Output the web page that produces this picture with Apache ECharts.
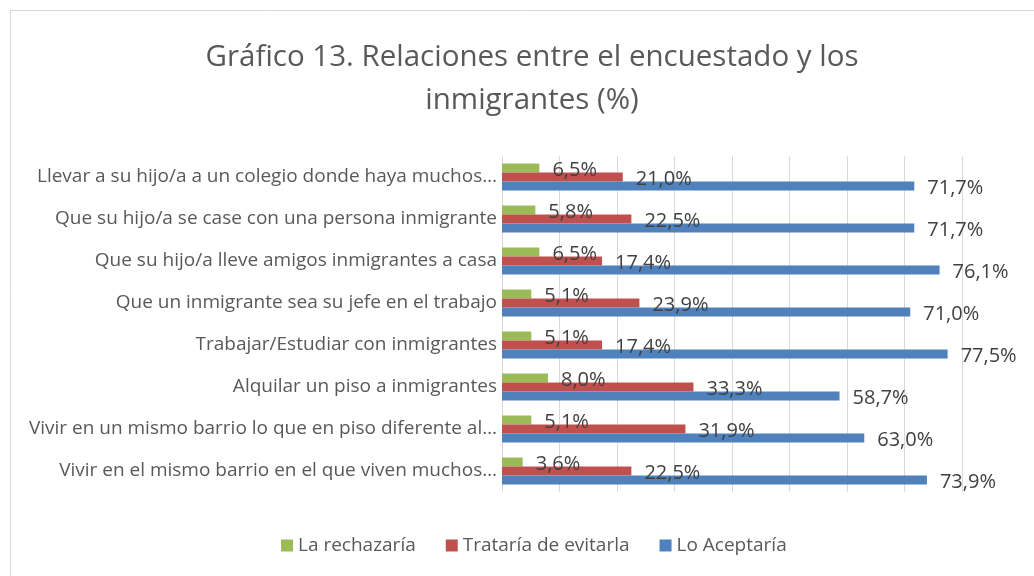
<!DOCTYPE html>
<html>
<head>
<meta charset="utf-8">
<script src="https://cdn.jsdelivr.net/npm/echarts@6/dist/echarts.min.js"></script>
<style>
html,body{margin:0;padding:0;background:#fff;}
#main{width:1034px;height:576px;}
</style>
</head>
<body>
<div id="main"></div>
<script>
var categories = [
    'Llevar a su hijo/a a un colegio donde haya muchos…',
    'Que su hijo/a se case con una persona inmigrante',
    'Que su hijo/a lleve amigos inmigrantes a casa',
    'Que un inmigrante sea su jefe en el trabajo',
    'Trabajar/Estudiar con inmigrantes',
    'Alquilar un piso a inmigrantes',
    'Vivir en un mismo barrio lo que en piso diferente al…',
    'Vivir en el mismo barrio en el que viven muchos…'
];
var rechazaria = [6.5, 5.8, 6.5, 5.1, 5.1, 8.0, 5.1, 3.6];
var evitarla = [21.0, 22.5, 17.4, 23.9, 17.4, 33.3, 31.9, 22.5];
var aceptaria = [71.7, 71.7, 76.1, 71.0, 77.5, 58.7, 63.0, 73.9];
var seriesNames = ['La rechazaría', 'Trataría de evitarla', 'Lo Aceptaría'];
var colors = ['#9bbb59', '#c0504d', '#4f81bd'];

var FONT = '"Open Sans", sans-serif';

function pct(p){
    return p.value.toFixed(1).replace('.', ',') + '%';
}

function makeSeries(name, data, color){
    return {
        name: name,
        type: 'bar',
        data: data,
        barWidth: 9,
        barGap: '0%',
        itemStyle: {color: color},
        label: {
            show: true,
            position: 'right',
            distance: 13,
            offset: [0, 2],
            color: '#404040',
            fontFamily: FONT,
            fontSize: 20,
            formatter: pct
        }
    };
}

var myChart = echarts.init(document.getElementById('main'));
myChart.setOption({
    animation: false,
    color: colors,
    title: {
        text: 'Gráfico 13. Relaciones entre el encuestado y los\ninmigrantes (%)',
        left: 527,
        top: 31,
        textAlign: 'center',
        textStyle: {
            fontFamily: FONT,
            fontSize: 29.5,
            fontWeight: 'normal',
            color: '#595959',
            lineHeight: 43
        }
    },
    legend: {
        bottom: 16,
        left: 276,
        itemWidth: 12,
        itemHeight: 12,
        itemGap: 30,
        icon: 'rect',
        textStyle: {fontFamily: FONT, fontSize: 19, color: '#595959'},
        data: seriesNames
    },
    grid: {
        left: 502,
        right: 72,
        top: 156,
        bottom: 84
    },
    xAxis: {
        type: 'value',
        min: 0,
        max: 80,
        interval: 10,
        axisLabel: {show: false},
        axisLine: {show: false},
        axisTick: {show: false},
        splitLine: {lineStyle: {color: '#d9d9d9', width: 1}}
    },
    yAxis: {
        type: 'category',
        inverse: true,
        data: categories,
        axisLine: {show: true, lineStyle: {color: '#d9d9d9'}},
        axisTick: {show: false},
        axisLabel: {
            fontFamily: FONT,
            fontSize: 19,
            color: '#595959',
            margin: 5
        }
    },
    graphic: [{
        type: 'rect',
        shape: {x: 10.5, y: 10.5, width: 1030, height: 570},
        style: {fill: 'none', stroke: '#d9d9d9', lineWidth: 1},
        silent: true
    }],
    series: [
        makeSeries(seriesNames[0], rechazaria, colors[0]),
        makeSeries(seriesNames[1], evitarla, colors[1]),
        makeSeries(seriesNames[2], aceptaria, colors[2])
    ]
});
</script>
</body>
</html>
